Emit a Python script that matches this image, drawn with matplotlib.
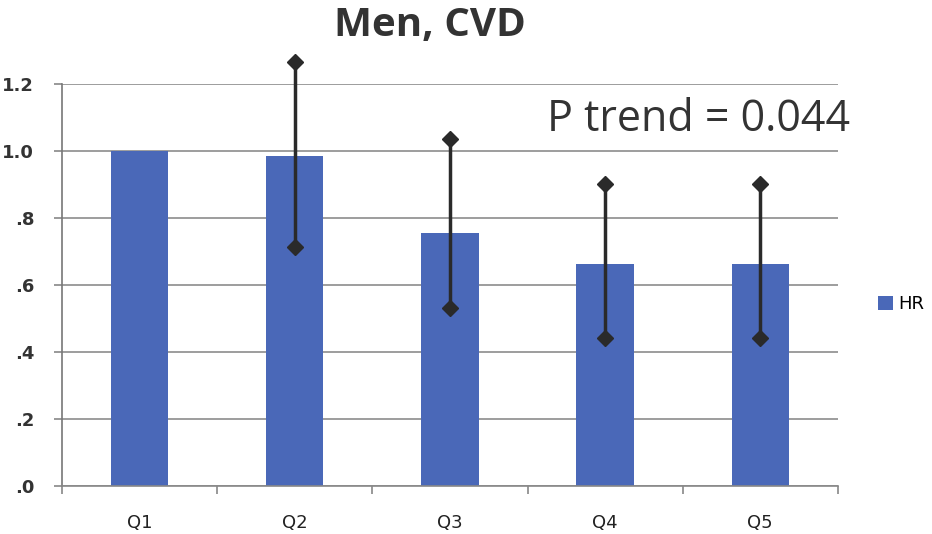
import matplotlib.pyplot as plt
import numpy as np

# data
groups = ['Q1', 'Q2', 'Q3', 'Q4', 'Q5']
hr = [1.0, 0.985, 0.755, 0.663, 0.663]
ci_low = [None, 0.713, 0.531, 0.442, 0.442]
ci_high = [None, 1.266, 1.036, 0.901, 0.901]
yticks = [0.0, 0.2, 0.4, 0.6, 0.8, 1.0, 1.2]
ytick_labels = ['.0', '.2', '.4', '.6', '.8', '1.0', '1.2']

fig = plt.figure(figsize=(9.32, 5.34), dpi=100)
ax = fig.add_axes([0.0665, 0.09, 0.8325, 0.7527])

x = np.arange(len(groups))
ax.bar(x, hr, width=0.37, color='#4a68b8', label='HR', zorder=2)

# confidence intervals: vertical line with diamonds at both ends
for i in range(len(groups)):
    if ci_low[i] is None:
        continue
    ax.plot([x[i], x[i]], [ci_low[i], ci_high[i]], color='#2a2a2a', lw=2.5,
            marker='D', markersize=8, zorder=3, clip_on=False)

ax.set_xlim(-0.5, len(groups) - 0.5)
ax.set_ylim(0, 1.2)
ax.set_yticks(yticks)
ax.set_yticklabels(ytick_labels, fontsize=13, fontweight='bold', color='#333333')
ax.set_xticks(x)
ax.set_xticklabels(groups, fontsize=13, color='#222222')
ax.tick_params(axis='x', length=0, pad=20)
ax.set_xticks(np.arange(-0.5, len(groups)), minor=True)
ax.tick_params(axis='x', which='minor', length=6, color='#888888', width=1.2)
ax.tick_params(axis='y', length=6, color='#888888', width=1.2, pad=14)

ax.grid(axis='y', color='#8c8c8c', lw=1.2, zorder=0)
for side in ['top', 'right']:
    ax.spines[side].set_visible(False)
ax.spines['left'].set_color('#777777')
ax.spines['bottom'].set_color('#888888')
ax.spines['left'].set_linewidth(1.2)
ax.spines['bottom'].set_linewidth(1.2)

fig.text(0.461, 0.953, 'Men, CVD', ha='center', va='center',
         fontsize=29, fontweight='bold', color='#333333', family='Open Sans')
fig.text(0.75, 0.775, 'P trend = 0.044', ha='center',
         va='center', fontsize=31, color='#333333', family='Open Sans')

fig.legend(loc='center left', bbox_to_anchor=(0.925, 0.43), frameon=False,
           fontsize=13, handlelength=0.8, handleheight=0.8, handletextpad=0.3)

fig.savefig('out.png', dpi=100)
